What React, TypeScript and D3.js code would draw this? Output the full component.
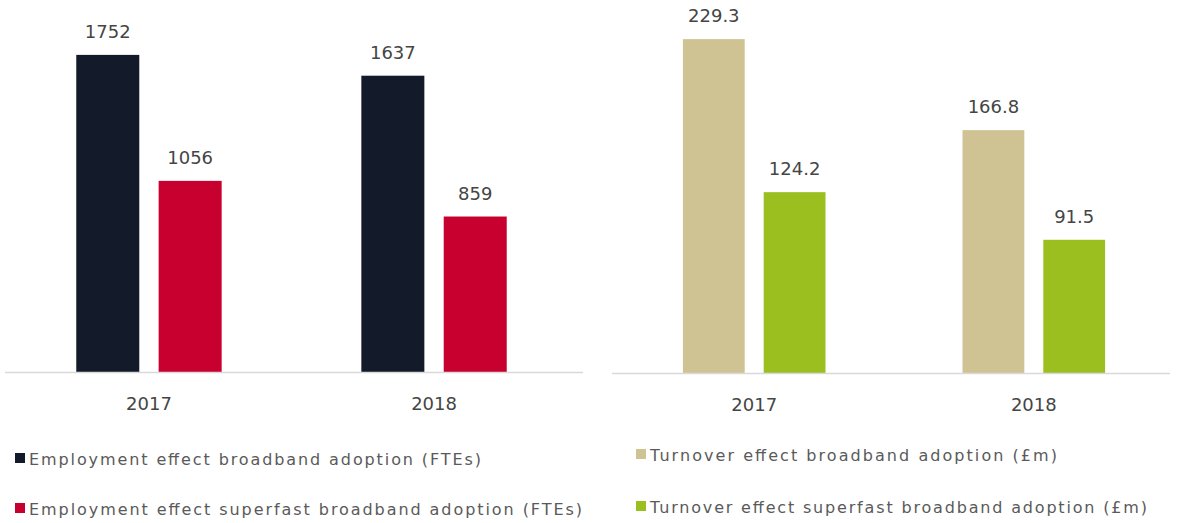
import React from "react";
import * as d3 from "d3";

const years = ["2017", "2018"];
const employmentSeries = ["Employment effect broadband adoption (FTEs)", "Employment effect superfast  broadband adoption (FTEs)"];
const employmentBroadband = [1752, 1637];
const employmentSuperfast = [1056, 859];
const turnoverSeries = ["Turnover effect broadband adoption (£m)", "Turnover effect superfast broadband adoption (£m)"];
const turnoverBroadband = [229.3, 166.8];
const turnoverSuperfast = [124.2, 91.5];

const FONT = "'DejaVu Sans', Verdana, sans-serif";

type PanelProps = {
  values: number[][];
  labels: (v: number) => string;
  colors: string[];
  xRange: [number, number];
  yDomainMax: number;
  yRange: [number, number];
  axisX: [number, number];
};

function Panel({ values, labels, colors, xRange, yDomainMax, yRange, axisX }: PanelProps) {
  const x0 = d3.scaleBand<string>().domain(years).range(xRange).paddingInner(0.49).paddingOuter(0.25);
  const x1 = d3.scaleBand<number>().domain([0, 1]).range([0, x0.bandwidth()]).paddingInner(0.235);
  const y = d3.scaleLinear().domain([0, yDomainMax]).range(yRange);
  const base = y(0);
  return (
    <g>
      {years.map((yr, i) => (
        <g key={yr} transform={`translate(${x0(yr)},0)`}>
          {values.map((series, s) => {
            const v = series[i];
            const bx = x1(s) as number;
            return (
              <g key={s}>
                <rect x={bx} y={y(v)} width={x1.bandwidth()} height={base - y(v)} fill={colors[s]} />
                <text
                  x={bx + x1.bandwidth() / 2}
                  y={y(v) - 17}
                  textAnchor="middle"
                  fontFamily={FONT}
                  fontSize={18}
                  fill="#454545"
                >
                  {labels(v)}
                </text>
              </g>
            );
          })}
        </g>
      ))}
      <line x1={axisX[0]} x2={axisX[1]} y1={base + 0.5} y2={base + 0.5} stroke="#d9d9d9" strokeWidth={1.5} />
      {years.map((yr) => (
        <text
          key={yr}
          x={(x0(yr) as number) + x0.bandwidth() / 2}
          y={base + 38}
          textAnchor="middle"
          fontFamily={FONT}
          fontSize={18}
          fill="#454545"
        >
          {yr}
        </text>
      ))}
    </g>
  );
}

type LegendItem = { label: string; color: string; x: number; y: number; len: number };

function Legend({ items }: { items: LegendItem[] }) {
  return (
    <g>
      {items.map((it) => (
        <g key={it.label}>
          <rect x={it.x} y={it.y - 12} width={10} height={10} fill={it.color} />
          <text
            x={it.x + 14}
            y={it.y}
            fontFamily={FONT}
            fontSize={16}
            fill="#5a5a5a"
            textLength={it.len}
            lengthAdjust="spacing"
          >
            {it.label}
          </text>
        </g>
      ))}
    </g>
  );
}

export default function App() {
  const empColors = ["#131a29", "#c8002f"];
  const turnColors = ["#cfc393", "#9bbf1f"];
  return (
    <svg
      width={1180}
      height={523}
      style={{ position: "absolute", left: 0, top: 0, background: "#ffffff" }}
    >
      <Panel
        values={[employmentBroadband, employmentSuperfast]}
        labels={(v) => String(v)}
        colors={empColors}
        xRange={[5, 578]}
        yDomainMax={2000}
        yRange={[372, 10]}
        axisX={[5, 583]}
      />
      <Panel
        values={[turnoverBroadband, turnoverSuperfast]}
        labels={(v) => v.toFixed(1)}
        colors={turnColors}
        xRange={[613, 1175]}
        yDomainMax={250}
        yRange={[373, 9]}
        axisX={[612, 1170]}
      />
      <Legend
        items={[
          { label: employmentSeries[0], color: empColors[0], x: 15, y: 465, len: 452 },
          { label: employmentSeries[1], color: empColors[1], x: 15, y: 515, len: 553 },
          { label: turnoverSeries[0], color: turnColors[0], x: 636, y: 461, len: 407 },
          { label: turnoverSeries[1], color: turnColors[1], x: 636, y: 513, len: 497 },
        ]}
      />
    </svg>
  );
}
